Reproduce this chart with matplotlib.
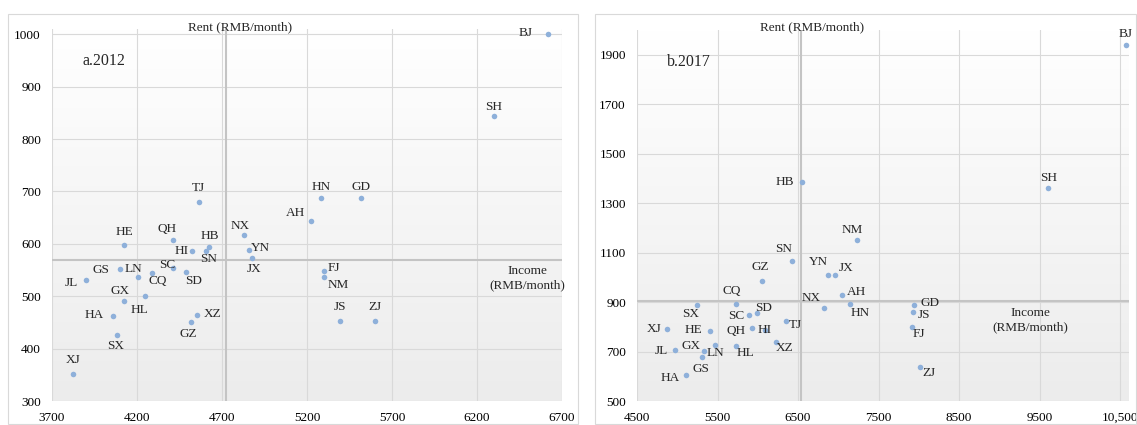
import matplotlib
matplotlib.use('Agg')
import matplotlib.pyplot as plt
import numpy as np
from matplotlib.colors import LinearSegmentedColormap
from matplotlib.patches import Rectangle

plt.rcParams['font.family'] = ['Liberation Serif', 'DejaVu Serif']

# ---------------- data: 2012 ----------------
prov_2012 = ['XJ', 'SX', 'HA', 'GX', 'HL', 'JL', 'GS', 'LN', 'CQ', 'SC', 'SD',
             'HE', 'QH', 'HI', 'HB', 'SN', 'XZ', 'GZ', 'TJ', 'NX', 'YN', 'JX',
             'AH', 'HN', 'GD', 'FJ', 'NM', 'JS', 'ZJ', 'SH', 'BJ']
income_2012 = [3824, 4085, 4057, 4126, 4246, 3899, 4098, 4203, 4289, 4413, 4486,
               4126, 4413, 4522, 4623, 4606, 4552, 4516, 4563, 4828, 4860, 4875,
               5224, 5282, 5519, 5301, 5301, 5395, 5601, 6298, 6620]
rent_2012 = [351, 426, 463, 491, 501, 531, 551, 537, 544, 553, 546,
             597, 608, 587, 594, 587, 465, 451, 679, 617, 589, 573,
             643, 687, 688, 549, 537, 452, 452, 843, 1000]
mean_income_2012 = 4726
mean_rent_2012 = 570

# ---------------- data: 2017 ----------------
prov_2017 = ['XJ', 'JL', 'HA', 'GS', 'GX', 'LN', 'HE', 'SX', 'CQ', 'SC', 'SD',
             'QH', 'HI', 'HL', 'XZ', 'TJ', 'GZ', 'SN', 'NX', 'YN', 'JX', 'AH',
             'HN', 'NM', 'GD', 'JS', 'FJ', 'ZJ', 'HB', 'SH', 'BJ']
income_2017 = [4867, 4974, 5108, 5310, 5332, 5466, 5404, 5243, 5730, 5896, 5994,
               5925, 6094, 5735, 6232, 6348, 6048, 6419, 6818, 6871, 6961, 7041,
               7144, 7229, 7941, 7932, 7918, 8017, 6545, 9605, 10570]
rent_2017 = [790, 706, 606, 679, 704, 727, 781, 890, 894, 849, 857,
             797, 789, 723, 740, 823, 987, 1065, 877, 1008, 1008, 929,
             891, 1150, 887, 860, 800, 638, 1385, 1361, 1938]
mean_income_2017 = 6540
mean_rent_2017 = 905

xticks_2012 = [3700, 4200, 4700, 5200, 5700, 6200, 6700]
yticks_2012 = [300, 400, 500, 600, 700, 800, 900, 1000]
xticks_2017 = [4500, 5500, 6500, 7500, 8500, 9500, 10500]
xticklabels_2017 = ['4500', '5500', '6500', '7500', '8500', '9500', '10,500']
yticks_2017 = [500, 700, 900, 1100, 1300, 1500, 1700, 1900]

# label offsets (pixels) -- styling only
off_2012 = {'HE': (0, 13), 'QH': (-6, 11), 'HB': (1, 11), 'SN': (3, -8), 'HI': (-10, 0),
            'GS': (-19, -1), 'LN': (-4, 8), 'JL': (-14, -3), 'SC': (-6, 3), 'CQ': (6, -8),
            'SD': (8, -9), 'GX': (-4, 10), 'HL': (-5, -14), 'HA': (-18, 1), 'SX': (-2, -11),
            'XZ': (16, 1), 'GZ': (-2, -12), 'XJ': (0, 14), 'TJ': (0, 14), 'NX': (-4, 9),
            'YN': (11, 2), 'JX': (2, -11), 'AH': (-16, 8), 'HN': (0, 11), 'GD': (0, 11),
            'FJ': (10, 3), 'NM': (14, -8), 'JS': (0, 14), 'ZJ': (0, 14), 'SH': (0, 9),
            'BJ': (-23, 1)}
off_2017 = {'XJ': (-12, 0), 'JL': (-14, -1), 'HA': (-16, -3), 'GS': (-1, -12), 'GX': (-13, 5),
            'LN': (1, -8), 'HE': (-16, 1), 'SX': (-6, -9), 'SC': (-13, -1), 'SD': (6, 5),
            'QH': (-16, -3), 'HI': (-1, 0), 'HL': (9, -7), 'XZ': (8, -6), 'TJ': (10, -4),
            'CQ': (-4, 13), 'GZ': (-1, 14), 'SN': (-8, 12), 'NX': (-12, 10), 'YN': (-10, 13),
            'JX': (11, 7), 'AH': (15, 3), 'HN': (10, -9), 'NM': (-5, 10), 'GD': (16, 2),
            'JS': (11, -3), 'FJ': (7, -7), 'ZJ': (9, -6), 'HB': (-17, 0), 'SH': (1, 10),
            'BJ': (0, 11)}

W, H = 1137, 425
fig = plt.figure(figsize=(W / 100, H / 100), dpi=100)
fig.patch.set_facecolor('white')

# chart frames
fig.patches.append(Rectangle((8 / W, 1 - 424 / H), (578 - 8) / W, (424 - 14) / H,
                             transform=fig.transFigure, fill=False, ec='#d9d9d9', lw=0.8))
fig.patches.append(Rectangle((595 / W, 1 - 424 / H), (1136 - 595) / W, (424 - 14) / H,
                             transform=fig.transFigure, fill=False, ec='#d9d9d9', lw=0.8))

ax1 = fig.add_axes([52 / W, 1 - 401 / H, (562 - 52) / W, (401 - 29) / H])
ax2 = fig.add_axes([637 / W, 1 - 401 / H, (1129 - 637) / W, (401 - 30) / H])

cmap = LinearSegmentedColormap.from_list('bg', ['#ececec', '#ffffff'])
grad = np.linspace(0, 1, 256).reshape(-1, 1)

pt_color = '#8eb0da'
grid_color = '#d9d9d9'
cross_color = '#c4c4c4'
fs = 9.5


def setup(ax, xs, ys, prov, offs, xt, xtl, yt, xlim, ylim, mx, my, income_pos):
    ax.imshow(grad, extent=[0, 1, 0, 1], transform=ax.transAxes, aspect='auto',
              cmap=cmap, origin='lower', zorder=0)
    ax.set_xlim(*xlim)
    ax.set_ylim(*ylim)
    ax.set_xticks(xt)
    ax.set_xticklabels(xtl)
    ax.set_yticks(yt)
    ax.grid(True, color=grid_color, lw=0.8, zorder=1)
    ax.set_axisbelow(True)
    for s in ax.spines.values():
        s.set_visible(False)
    ax.tick_params(length=0, labelsize=fs, pad=8)
    ax.axvline(mx, color=cross_color, lw=1.5, zorder=2)
    ax.axhline(my, color=cross_color, lw=1.5, zorder=2)
    ax.scatter(xs, ys, s=16, color=pt_color, zorder=4, linewidths=0)
    for p, x, y in zip(prov, xs, ys):
        dx, dy = offs[p]
        ax.annotate(p, (x, y), xytext=(dx, dy), textcoords='offset pixels',
                    ha='center', va='center', fontsize=fs, color='#262626', zorder=5)
    ax.text(income_pos[0], income_pos[1], 'Income\n(RMB/month)', ha='center', va='center',
            fontsize=fs, color='#262626', linespacing=1.25, zorder=5)


setup(ax1, income_2012, rent_2012, prov_2012, off_2012, xticks_2012,
      [str(v) for v in xticks_2012], yticks_2012, (3700, 6700), (300, 1010),
      mean_income_2012, mean_rent_2012, (6494, 535))
setup(ax2, income_2017, rent_2017, prov_2017, off_2017, xticks_2017,
      xticklabels_2017, yticks_2017, (4500, 10610), (500, 2000),
      mean_income_2017, mean_rent_2017, (9382, 827))

fig.text(240 / W, 1 - 27 / H, 'Rent (RMB/month)', ha='center', va='center', fontsize=fs,
         color='#262626')
fig.text(812 / W, 1 - 27 / H, 'Rent (RMB/month)', ha='center', va='center', fontsize=fs,
         color='#262626')
fig.text(104 / W, 1 - 61 / H, 'a.2012', ha='center', va='center', fontsize=11.5,
         color='#262626')
fig.text(689 / W, 1 - 62 / H, 'b.2017', ha='center', va='center', fontsize=11.5,
         color='#262626')

fig.savefig('out.png', dpi=100, facecolor='white')
